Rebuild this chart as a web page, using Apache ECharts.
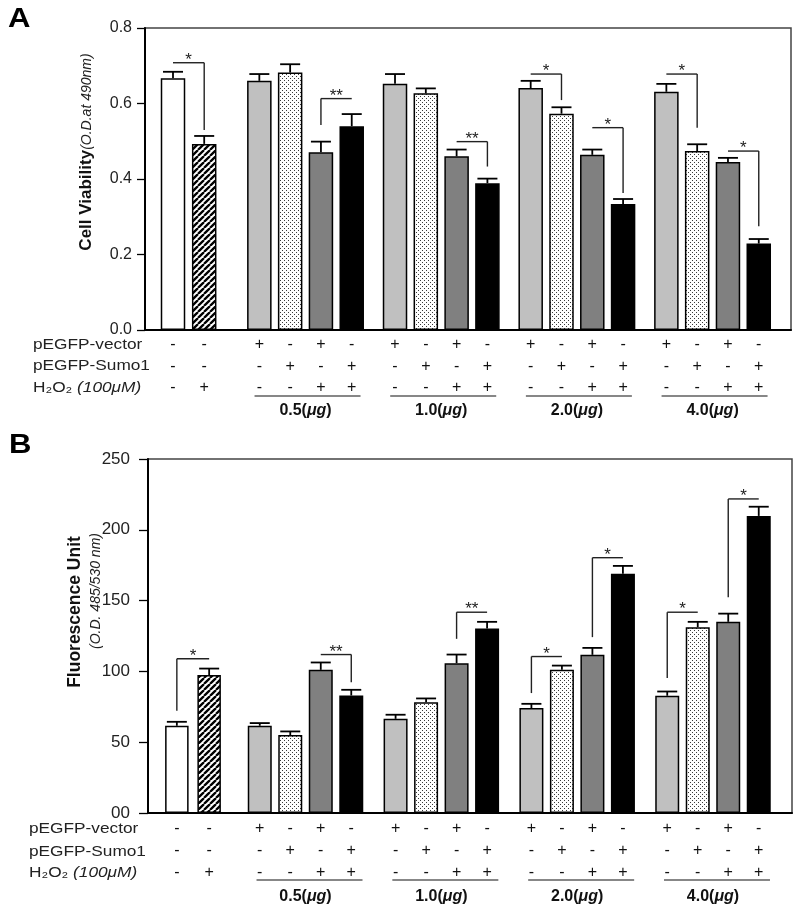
<!DOCTYPE html>
<html><head><meta charset="utf-8">
<script src="https://cdn.jsdelivr.net/npm/echarts@6/dist/echarts.min.js"></script>
<style>html,body{margin:0;padding:0;background:#fff}#c{width:800px;height:916px}</style>
</head><body><div id="c"></div>
<script>
// ================= DATA =================
const doses = ['0.5', '1.0', '2.0', '4.0'];
const rowLabels = ['pEGFP-vector', 'pEGFP-Sumo1', 'H₂O₂ ', '(100μM)'];
const ctrlVector = ['-', '-'];
const ctrlSumo = ['-', '-'];
const ctrlH2O2 = ['-', '+'];
const trtVector = ['+', '-', '+', '-'];
const trtSumo = ['-', '+', '-', '+'];
const trtH2O2 = ['-', '-', '+', '+'];

// Panel A: cell viability (O.D. at 490 nm)
const A_ticks = ['0.0', '0.2', '0.4', '0.6', '0.8'];
const A_ctrl = [0.667, 0.493];
const A_ctrl_se = [0.017, 0.021];
const A_vec = [0.660, 0.652, 0.641, 0.631];
const A_vec_se = [0.018, 0.026, 0.019, 0.021];
const A_sumo = [0.682, 0.627, 0.573, 0.474];
const A_sumo_se = [0.022, 0.013, 0.017, 0.018];
const A_vecH = [0.471, 0.460, 0.464, 0.445];
const A_vecH_se = [0.028, 0.018, 0.014, 0.011];
const A_sumoH = [0.540, 0.389, 0.334, 0.229];
const A_sumoH_se = [0.032, 0.012, 0.013, 0.012];
// [dose index (-1 = control), bar from, bar to, bracket level, end with drop, drop level, mark]
const A_brackets = [
  [-1, 0, 1, 0.708, 'right', 0.530, '*'],
  [0, 2, 3, 0.613, 'left', 0.543, '**'],
  [1, 2, 3, 0.499, 'right', 0.433, '**'],
  [2, 0, 1, 0.678, 'right', 0.609, '*'],
  [2, 2, 3, 0.536, 'right', 0.363, '*'],
  [3, 0, 1, 0.678, 'right', 0.536, '*'],
  [3, 2, 3, 0.474, 'right', 0.275, '*']
];

// Panel B: fluorescence unit (O.D. 485/530 nm)
const B_ticks = ['00', '50', '100', '150', '200', '250'];
const B_ctrl = [61.6, 97.4];
const B_ctrl_se = [2.8, 4.6];
const B_vec = [61.6, 66.5, 74.1, 82.8];
const B_vec_se = [1.9, 2.9, 3.0, 3.0];
const B_sumo = [55.0, 78.3, 101.1, 131.2];
const B_sumo_se = [2.6, 2.6, 3.0, 3.8];
const B_vecH = [101.1, 105.8, 111.7, 135.0];
const B_vecH_se = [5.2, 6.1, 4.9, 5.8];
const B_sumoH = [83.0, 130.3, 168.9, 209.8];
const B_sumoH_se = [4.0, 4.7, 5.6, 6.5];
const B_brackets = [
  [-1, 0, 1, 108.9, 'left', 72.2, '*'],
  [0, 2, 3, 111.9, 'right', 92.4, '**'],
  [1, 2, 3, 141.8, 'left', 123.0, '**'],
  [2, 0, 1, 110.5, 'left', 84.7, '*'],
  [2, 2, 3, 180.3, 'left', 124.2, '*'],
  [3, 0, 1, 141.8, 'left', 95.3, '*'],
  [3, 2, 3, 221.8, 'left', 152.4, '*']
];

// ================= STYLE / LAYOUT =================
const FF = '"Liberation Sans", Arial, Helvetica, sans-serif';
function makeHatch() {
  const s = 6, c = document.createElement('canvas'); c.width = c.height = s;
  const x = c.getContext('2d');
  x.fillStyle = '#fff'; x.fillRect(0, 0, s, s);
  x.strokeStyle = '#000'; x.lineWidth = 2.3; x.beginPath();
  for (const k of [-s, 0, s]) { x.moveTo(k, s); x.lineTo(k + s, 0); }
  x.stroke(); return c;
}
function makeDots() {
  const s = 4, c = document.createElement('canvas'); c.width = c.height = s;
  const x = c.getContext('2d');
  x.fillStyle = '#fff'; x.fillRect(0, 0, s, s);
  x.fillStyle = '#3a3a3a'; x.fillRect(0, 0, 1, 1); x.fillRect(2, 2, 1, 1);
  return c;
}
const HATCH = { image: makeHatch(), repeat: 'repeat' };
const DOTS = { image: makeDots(), repeat: 'repeat' };
const ctrlColors = ['#ffffff', HATCH];
const trtColors = ['#c0c0c0', DOTS, '#808080', '#000000'];

const PANELS = [
  { left: 145, top: 28, width: 646, height: 302, max: 0.8, interval: 0.2, ticks: A_ticks,
    tickFont: 16, labelMargin: 13, tickLen: 8,
    ctrlCenter: 188.6, ctrlW: 24.5, ctrlGap: 6.7,
    trtLeft: 237.7, trtWidth: 542.7, trtW: 24.5, trtGap: 6.3,
    ctrl: A_ctrl, ctrlSe: A_ctrl_se,
    trt: [A_vec, A_sumo, A_vecH, A_sumoH], trtSe: [A_vec_se, A_sumo_se, A_vecH_se, A_sumoH_se],
    brackets: A_brackets, signDist: 4.3, rowH: 21.5, doseMargin: 72.7, ulOff: 66, ulShift: 2, ulHalf: 53 },
  { left: 148, top: 459, width: 644, height: 354, max: 250, interval: 50, ticks: B_ticks,
    tickFont: 17, labelMargin: 18, tickLen: 9,
    ctrlCenter: 193, ctrlW: 23.5, ctrlGap: 8.8,
    trtLeft: 237.6, trtWidth: 543.3, trtW: 24, trtGap: 6.5,
    ctrl: B_ctrl, ctrlSe: B_ctrl_se,
    trt: [B_vec, B_sumo, B_vecH, B_sumoH], trtSe: [B_vec_se, B_sumo_se, B_vecH_se, B_sumoH_se],
    brackets: B_brackets, signDist: 5, rowH: 22, doseMargin: 76, ulOff: 67, ulShift: 4, ulHalf: 53 }
];

const grid = [], xAxis = [], yAxis = [], series = [];

function signLabel(V, S, H, k, P) {
  return { show: true, position: 'bottom', distance: P.signDist, lineHeight: P.rowH,
    fontSize: 16, fontFamily: FF, color: '#111',
    formatter: () => V[k] + '\n' + S[k] + '\n' + H[k] };
}

function errorSeries(xi, items, n, pitch) {
  return { type: 'custom', xAxisIndex: xi, yAxisIndex: xi, z: 5, clip: false, silent: true,
    data: items,
    renderItem(params, api) {
      const cat = api.value(0), v = api.value(1), se = api.value(2), slot = api.value(3);
      const b = api.coord([cat, v]), t = api.coord([cat, v + se]);
      const x = b[0] + (slot - (n - 1) / 2) * pitch;
      const st = { stroke: '#000', lineWidth: 1.8 };
      return { type: 'group', children: [
        { type: 'line', shape: { x1: x, y1: b[1], x2: x, y2: t[1] }, style: st },
        { type: 'line', shape: { x1: x - 10, y1: t[1], x2: x + 10, y2: t[1] }, style: st }
      ] };
    } };
}

function bracketSeries(xi, defs, n, pitch) {
  return { type: 'custom', xAxisIndex: xi, yAxisIndex: xi, z: 5, clip: false, silent: true,
    data: defs.map(d => [Math.max(d[0], 0), d[3]]),
    renderItem(params, api) {
      const d = defs[params.dataIndex];
      const cat = Math.max(d[0], 0);
      const c = api.coord([cat, d[3]]);
      const x1 = c[0] + (d[1] - (n - 1) / 2) * pitch;
      const x2 = c[0] + (d[2] - (n - 1) / 2) * pitch;
      const xd = d[4] === 'right' ? x2 : x1;
      const yd = api.coord([cat, d[5]])[1];
      const st = { stroke: '#222', lineWidth: 1.4 };
      return { type: 'group', children: [
        { type: 'line', shape: { x1: x1, y1: c[1], x2: x2, y2: c[1] }, style: st },
        { type: 'line', shape: { x1: xd, y1: c[1], x2: xd, y2: yd }, style: st },
        { type: 'text', style: { x: (x1 + x2) / 2, y: c[1] - 2.5, text: d[6], fill: '#222',
          font: '17px ' + FF, align: 'center', verticalAlign: 'middle' } }
      ] };
    } };
}

PANELS.forEach((P, pi) => {
  const gi = grid.length;
  grid.push({ left: P.left, top: P.top, width: P.width, height: P.height, show: true,
    borderColor: '#444', borderWidth: 1.5, backgroundColor: 'transparent' });
  grid.push({ left: P.ctrlCenter - 40, top: P.top, width: 80, height: P.height });
  grid.push({ left: P.trtLeft, top: P.top, width: P.trtWidth, height: P.height });
  const yb = { type: 'value', min: 0, max: P.max, interval: P.interval };
  yAxis.push(Object.assign({}, yb, { gridIndex: gi,
    axisLine: { show: true, lineStyle: { color: '#000', width: 2 } },
    axisTick: { show: true, length: P.tickLen, lineStyle: { color: '#000', width: 1.3 } },
    splitLine: { show: false },
    axisLabel: { margin: P.labelMargin, fontSize: P.tickFont, fontFamily: FF, color: '#222',
      formatter: v => P.ticks[Math.round(v / P.interval)] } }));
  yAxis.push(Object.assign({}, yb, { gridIndex: gi + 1, show: false }));
  yAxis.push(Object.assign({}, yb, { gridIndex: gi + 2, show: false }));
  xAxis.push({ type: 'category', gridIndex: gi, data: [''],
    axisLine: { show: true, lineStyle: { color: '#000', width: 2 } },
    axisTick: { show: false }, axisLabel: { show: false } });
  xAxis.push({ type: 'category', gridIndex: gi + 1, data: ['control'], show: false });
  xAxis.push({ type: 'category', gridIndex: gi + 2, data: doses,
    axisLine: { show: false }, axisTick: { show: false }, splitLine: { show: false },
    axisLabel: { show: true, margin: P.doseMargin, interval: 0,
      formatter: v => '{b|' + v + '(}{i|μg}{b|)}',
      rich: { b: { fontFamily: FF, fontSize: 16, fontWeight: 'bold', color: '#111' },
              i: { fontFamily: FF, fontSize: 16, fontWeight: 'bold', fontStyle: 'italic', color: '#111' } } } });

  // control bars
  P.ctrl.forEach((v, k) => {
    series.push({ type: 'bar', xAxisIndex: gi + 1, yAxisIndex: gi + 1, data: [v],
      barWidth: P.ctrlW, barGap: (P.ctrlGap / P.ctrlW * 100).toFixed(1) + '%',
      itemStyle: { color: ctrlColors[k], borderColor: '#000', borderWidth: 1.5 },
      label: signLabel(ctrlVector, ctrlSumo, ctrlH2O2, k, P), silent: true });
  });
  // treatment bars
  P.trt.forEach((arr, k) => {
    series.push({ type: 'bar', xAxisIndex: gi + 2, yAxisIndex: gi + 2, data: arr,
      barWidth: P.trtW, barGap: (P.trtGap / P.trtW * 100).toFixed(1) + '%',
      itemStyle: { color: trtColors[k], borderColor: '#000', borderWidth: 1.5 },
      label: signLabel(trtVector, trtSumo, trtH2O2, k, P), silent: true });
  });
  // error bars
  series.push(errorSeries(gi + 1, P.ctrl.map((v, k) => [0, v, P.ctrlSe[k], k]), 2, P.ctrlW + P.ctrlGap));
  const te = [];
  P.trt.forEach((arr, k) => arr.forEach((v, d) => te.push([d, v, P.trtSe[k][d], k])));
  series.push(errorSeries(gi + 2, te, 4, P.trtW + P.trtGap));
  // significance brackets
  series.push(bracketSeries(gi + 1, P.brackets.filter(d => d[0] < 0), 2, P.ctrlW + P.ctrlGap));
  series.push(bracketSeries(gi + 2, P.brackets.filter(d => d[0] >= 0), 4, P.trtW + P.trtGap));
  // dose underlines
  series.push({ type: 'custom', xAxisIndex: gi + 2, yAxisIndex: gi + 2, clip: false, silent: true,
    data: doses.map((d, i) => [i, 0]),
    renderItem(params, api) {
      const c = api.coord([api.value(0), 0]);
      const x = c[0] + P.ulShift;
      return { type: 'line', shape: { x1: x - P.ulHalf, y1: c[1] + P.ulOff, x2: x + P.ulHalf, y2: c[1] + P.ulOff },
        style: { stroke: '#111', lineWidth: 1.2 } };
    } });
});

// row labels, titles, panel letters
function rowText(x, y, text, rich) {
  return { type: 'text', x: x, y: y, scaleX: 1.15, silent: true,
    style: { text: text, font: '15px ' + FF, fill: '#222', verticalAlign: 'middle', rich: rich } };
}
const rowRich = { n: { font: '15px ' + FF, fill: '#222' }, i: { font: 'italic 15px ' + FF, fill: '#222' } };
const graphic = [
  { type: 'text', x: 8, y: 6.5, scaleX: 1.15, silent: true, style: { text: 'A', font: 'bold 27px ' + FF, fill: '#000', verticalAlign: 'top' } },
  { type: 'text', x: 9, y: 432, scaleX: 1.15, silent: true, style: { text: 'B', font: 'bold 27px ' + FF, fill: '#000', verticalAlign: 'top' } },
  rowText(33, 345, rowLabels[0]),
  rowText(33, 365.7, rowLabels[1]),
  rowText(33, 388, '{n|' + rowLabels[2] + '}{i|' + rowLabels[3] + '}', rowRich),
  rowText(29, 829.3, rowLabels[0]),
  rowText(29, 851.7, rowLabels[1]),
  rowText(29, 873.3, '{n|' + rowLabels[2] + '}{i|' + rowLabels[3] + '}', rowRich),
  { type: 'text', x: 86, y: 152, rotation: Math.PI / 2, silent: true,
    style: { text: '{b|Cell Viability}{i|(O.D.at 490nm)}', align: 'center', verticalAlign: 'middle',
      rich: { b: { font: 'bold 17px ' + FF, fill: '#111', verticalAlign: 'bottom' },
              i: { font: 'italic 14px ' + FF, fill: '#222', verticalAlign: 'bottom' } } } },
  { type: 'text', x: 75, y: 612, rotation: Math.PI / 2, silent: true,
    style: { text: 'Fluorescence Unit', font: 'bold 17.5px ' + FF, fill: '#111', align: 'center', verticalAlign: 'middle' } },
  { type: 'text', x: 96, y: 591, rotation: Math.PI / 2, silent: true,
    style: { text: '(O.D. 485/530 nm)', font: 'italic 14px ' + FF, fill: '#222', align: 'center', verticalAlign: 'middle' } }
];

const chart = echarts.init(document.getElementById('c'), null, { renderer: 'canvas' });
chart.setOption({ animation: false, backgroundColor: '#fff', grid, xAxis, yAxis, series, graphic });
</script></body></html>
